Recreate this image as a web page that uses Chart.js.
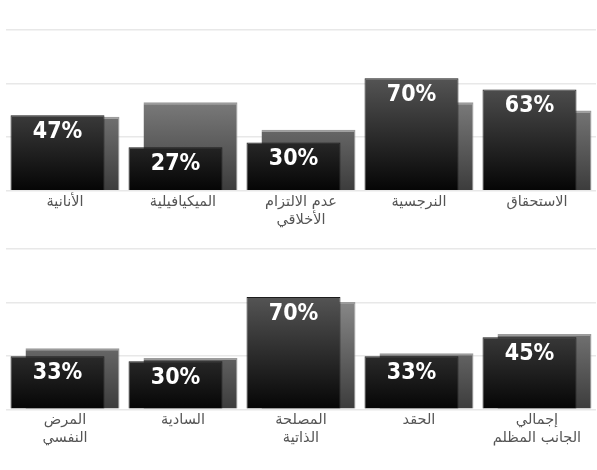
<!DOCTYPE html>
<html>
<head>
<meta charset="utf-8">
<script src="https://cdn.jsdelivr.net/npm/chart.js@4"></script>
<style>
  body { margin: 0; background: #fff; }
  .box { position: relative; width: 597px; height: 235px; }
</style>
</head>
<body>
<div class="box"><canvas id="topChart"></canvas></div>
<div class="box"><canvas id="bottomChart"></canvas></div>
<script>
var topLabels = ["الأنانية", "الميكيافيلية", ["عدم الالتزام", "الأخلاقي"], "النرجسية", "الاستحقاق"];
var topValues = [47, 27, 30, 70, 63];
var topBack = [46, 55, 38, 55, 50];

var bottomLabels = [["المرض", "النفسي"], "السادية", ["المصلحة", "الذاتية"], "الحقد", ["إجمالي", "الجانب المظلم"]];
var bottomValues = [33, 30, 70, 33, 45];
var bottomBack = [38, 32, 67, 35, 47];

// vertical gradient over the whole plot area
var areaGradient = function (bottomColor, topColor) {
    return function (ctx) {
        var chart = ctx.chart;
        var area = chart.chartArea;
        if (!area) return bottomColor;
        var g = chart.ctx.createLinearGradient(0, area.bottom, 0, area.top);
        g.addColorStop(0, bottomColor);
        g.addColorStop(1, topColor);
        return g;
    };
};

// white percentage inside the front bar
var percentLabels = {
    id: 'percentLabels',
    afterDatasetsDraw: function (chart) {
        var ctx = chart.ctx;
        var meta = chart.getDatasetMeta(0);
        var values = chart.data.datasets[0].data;
        ctx.save();
        ctx.fillStyle = '#ffffff';
        ctx.font = 'bold 23px "DejaVu Sans Condensed", "DejaVu Sans"';
        ctx.textAlign = 'center';
        ctx.textBaseline = 'middle';
        meta.data.forEach(function (bar, i) {
            ctx.fillText(values[i] + '%', bar.x, bar.y + 17);
        });
        ctx.restore();
    }
};

var makeChart = function (canvasId, labels, front, back, pad) {
    return new Chart(document.getElementById(canvasId), {
        type: 'bar',
        data: {
            labels: labels,
            datasets: [
                {
                    data: front,
                    backgroundColor: areaGradient('#050505', '#767676'),
                    borderColor: '#1c1c1c',
                    borderWidth: { top: 1, left: 1, right: 1, bottom: 0 },
                    borderSkipped: false
                },
                {
                    data: back,
                    backgroundColor: areaGradient('#3c3c3c', '#acacac'),
                    borderColor: '#9c9c9c',
                    borderWidth: { top: 2, left: 0, right: 1, bottom: 0 },
                    borderSkipped: false
                }
            ]
        },
        options: {
            responsive: true,
            maintainAspectRatio: false,
            animation: false,
            categoryPercentage: 0.254,
            barPercentage: 6.27,
            layout: { padding: pad },
            plugins: {
                legend: { display: false },
                tooltip: { enabled: false }
            },
            scales: {
                x: {
                    grid: { display: false, drawTicks: false },
                    border: { display: false },
                    ticks: {
                        color: '#555555',
                        padding: 2,
                        maxRotation: 0,
                        autoSkip: false,
                        font: { family: '"DejaVu Sans"', size: 14.5, lineHeight: 1.25 }
                    }
                },
                y: {
                    min: 0,
                    max: 100,
                    border: { display: false },
                    grid: { color: '#e8e8e8', lineWidth: 1.5, drawTicks: false },
                    ticks: { display: false, count: 4 }
                }
            }
        },
        plugins: [percentLabels]
    });
};

makeChart('topChart', topLabels, topValues, topBack, { top: 30, bottom: 4, left: 6, right: 1 });
makeChart('bottomChart', bottomLabels, bottomValues, bottomBack, { top: 14, bottom: 20.5, left: 6, right: 1 });
</script>
</body>
</html>
